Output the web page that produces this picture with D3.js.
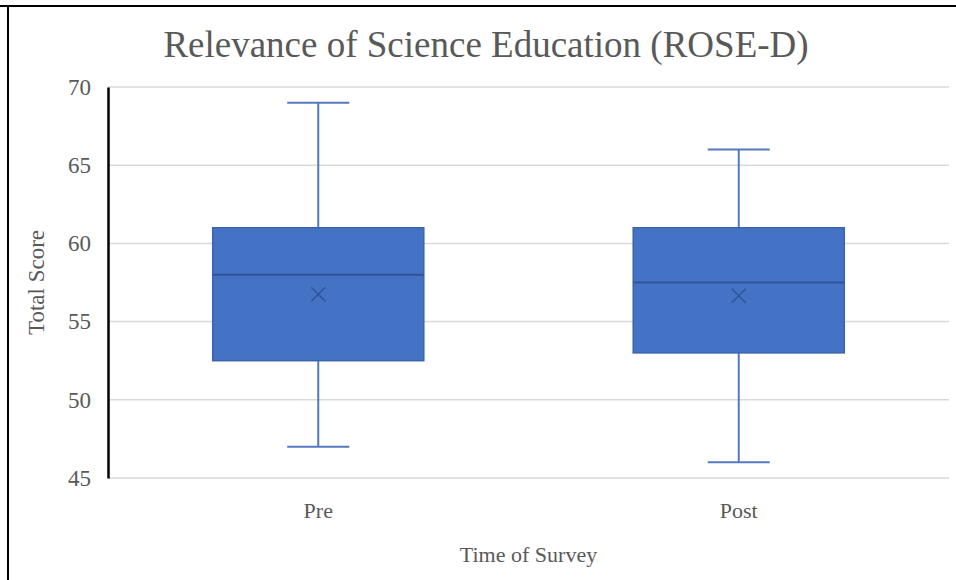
<!DOCTYPE html>
<html>
<head>
<meta charset="utf-8">
<script src="https://cdn.jsdelivr.net/npm/d3@7"></script>
<style>
  html, body { margin: 0; padding: 0; background: #fff; }
  svg { display: block; }
</style>
</head>
<body>
<svg id="chart" width="956" height="580"></svg>
<script>
const categories = ["Pre", "Post"];
const whiskerLow = [47, 46];
const q1 = [52.5, 53];
const median = [58, 57.5];
const q3 = [61, 61];
const whiskerHigh = [69, 66];
const mean = [56.75, 56.65];
const yTicks = [45, 50, 55, 60, 65, 70];

const title = "Relevance of Science Education (ROSE-D)";
const xTitle = "Time of Survey";
const yTitle = "Total Score";

const W = 956, H = 580;
const plot = { left: 108, right: 949, top: 87, bottom: 478 };
const font = "'Liberation Serif', 'Times New Roman', serif";
const textColor = "#595959";

const svg = d3.select("#chart");

// frame borders
svg.append("line").attr("x1", 0).attr("x2", W).attr("y1", 6).attr("y2", 6)
  .attr("stroke", "#000").attr("stroke-width", 2);
svg.append("line").attr("x1", 8).attr("x2", 8).attr("y1", 5).attr("y2", H)
  .attr("stroke", "#000").attr("stroke-width", 2);

const x = d3.scaleBand().domain(categories).range([plot.left, plot.right]).paddingInner(0).paddingOuter(0);
const y = d3.scaleLinear().domain([45, 70]).range([plot.bottom, plot.top]);

// gridlines
svg.append("g").selectAll("line").data(yTicks).join("line")
  .attr("x1", plot.left).attr("x2", plot.right)
  .attr("y1", d => y(d)).attr("y2", d => y(d))
  .attr("stroke", "#d9d9d9").attr("stroke-width", 1.5);

// y axis
const yAxis = d3.axisLeft(y).tickValues(yTicks).tickSize(0).tickPadding(17);
const gy = svg.append("g").attr("transform", `translate(${plot.left},0)`).call(yAxis);
gy.select(".domain").attr("stroke", "#000").attr("stroke-width", 2.5);
gy.selectAll("text").attr("font-family", font).attr("font-size", 23).attr("fill", textColor);

// x axis labels
const xAxis = d3.axisBottom(x).tickSize(0).tickPadding(0);
const gx = svg.append("g").attr("transform", `translate(0,${plot.bottom})`).call(xAxis);
gx.select(".domain").remove();
gx.selectAll("text").attr("dy", null).attr("y", 40)
  .attr("font-family", font).attr("font-size", 22).attr("fill", textColor);

const boxW = x.bandwidth() * 0.502;
const capW = 62;
const data = categories.map((c, i) => ({
  c, lo: whiskerLow[i], q1: q1[i], med: median[i], q3: q3[i], hi: whiskerHigh[i], mean: mean[i]
}));

const g = svg.append("g");
const boxes = g.selectAll("g.box").data(data).join("g").attr("class", "box");
const cx = d => x(d.c) + x.bandwidth() / 2;

const whiskerColor = "#5479c0";
// whiskers
boxes.append("line").attr("x1", cx).attr("x2", cx).attr("y1", d => y(d.hi)).attr("y2", d => y(d.q3))
  .attr("stroke", whiskerColor).attr("stroke-width", 2);
boxes.append("line").attr("x1", cx).attr("x2", cx).attr("y1", d => y(d.q1)).attr("y2", d => y(d.lo))
  .attr("stroke", whiskerColor).attr("stroke-width", 2);
// caps
boxes.append("line").attr("x1", d => cx(d) - capW / 2).attr("x2", d => cx(d) + capW / 2)
  .attr("y1", d => y(d.hi)).attr("y2", d => y(d.hi)).attr("stroke", whiskerColor).attr("stroke-width", 2);
boxes.append("line").attr("x1", d => cx(d) - capW / 2).attr("x2", d => cx(d) + capW / 2)
  .attr("y1", d => y(d.lo)).attr("y2", d => y(d.lo)).attr("stroke", whiskerColor).attr("stroke-width", 2);
// box
boxes.append("rect")
  .attr("x", d => cx(d) - boxW / 2).attr("width", boxW)
  .attr("y", d => y(d.q3)).attr("height", d => y(d.q1) - y(d.q3))
  .attr("fill", "#4472c4").attr("stroke", "#3b64ad").attr("stroke-width", 1.5);
// median
boxes.append("line").attr("x1", d => cx(d) - boxW / 2).attr("x2", d => cx(d) + boxW / 2)
  .attr("y1", d => y(d.med)).attr("y2", d => y(d.med)).attr("stroke", "#2f5597").attr("stroke-width", 2);
// mean marker X
const mx = 7;
boxes.append("path")
  .attr("d", d => `M${cx(d) - mx},${y(d.mean) - mx}L${cx(d) + mx},${y(d.mean) + mx}M${cx(d) - mx},${y(d.mean) + mx}L${cx(d) + mx},${y(d.mean) - mx}`)
  .attr("stroke", "#2f5597").attr("stroke-width", 1.5).attr("fill", "none");

// titles
svg.append("text").attr("x", 486).attr("y", 57).attr("text-anchor", "middle")
  .attr("font-family", font).attr("font-size", 37).attr("fill", textColor).text(title);
svg.append("text").attr("x", (plot.left + plot.right) / 2).attr("y", 562).attr("text-anchor", "middle")
  .attr("font-family", font).attr("font-size", 22).attr("fill", textColor).text(xTitle);
svg.append("text").attr("transform", `translate(43.5,${(plot.top + plot.bottom) / 2}) rotate(-90)`)
  .attr("text-anchor", "middle")
  .attr("font-family", font).attr("font-size", 23).attr("fill", textColor).text(yTitle);
</script>
</body>
</html>
